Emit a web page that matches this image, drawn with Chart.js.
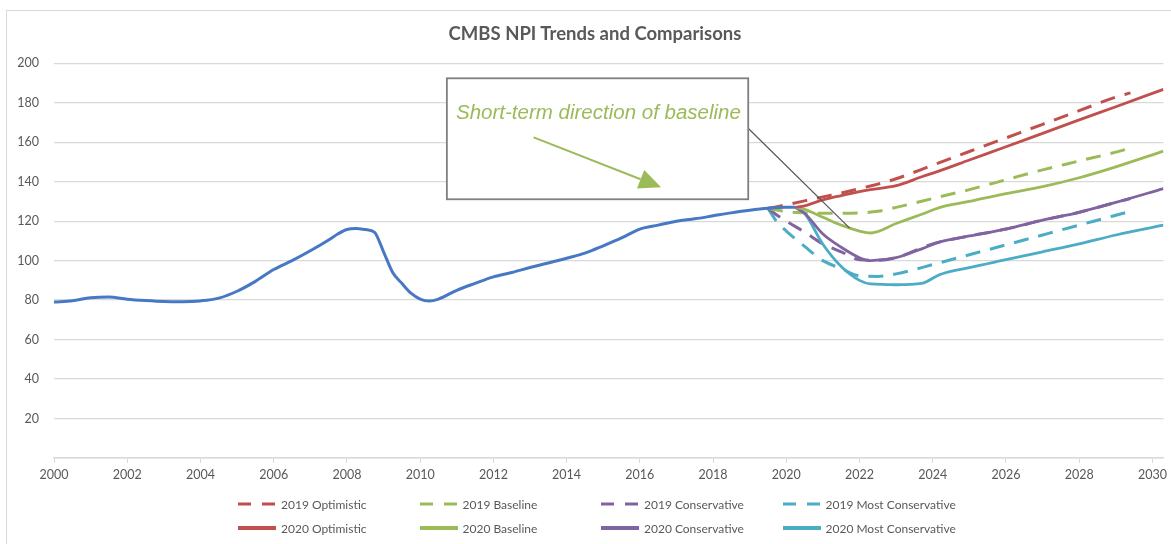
<!DOCTYPE html>
<html>
<head>
<meta charset="utf-8">
<title>CMBS NPI Trends and Comparisons</title>
<script src="https://cdn.jsdelivr.net/npm/chart.js@4.4.1/dist/chart.umd.min.js"></script>
<style>
    html, body { margin: 0; padding: 0; background: #fff; }
    #wrap { position: relative; width: 1171px; height: 544px; overflow: hidden; }
    #frame { position: absolute; left: 6px; top: 10px; right: -2px; bottom: -2px; border-top: 1px solid #d9d9d9; border-left: 1px solid #d9d9d9; pointer-events: none; }
    #npi-chart { position: absolute; left: 0; top: 0; }
    #chart-title { position: absolute; left: 0; top: 22px; width: 1190px; text-align: center; font: bold 18.5px/22px Lato, sans-serif; color: #595959; white-space: nowrap; }
    #legend { position: absolute; left: 238px; top: 494px; display: grid; grid-template-columns: repeat(4, 181.5px); row-gap: 4px; font: 12px Lato, sans-serif; color: #595959; }
    .legend-item { display: flex; align-items: center; height: 20px; white-space: nowrap; }
    .legend-item svg { margin-right: 5px; flex: none; }
</style>
</head>
<body>
<div id="wrap">
    <canvas id="npi-chart" width="1171" height="544"></canvas>
    <div id="frame"></div>
    <div id="chart-title">CMBS NPI Trends and Comparisons</div>
    <div id="legend"></div>
</div>
<script>
// Historical CMBS NPI index
const historyYears = [2000, 2000.5, 2001, 2001.5, 2002, 2002.5, 2003, 2003.5, 2004, 2004.5, 2005, 2005.5, 2006, 2006.5, 2007, 2007.5, 2007.75, 2008, 2008.25, 2008.5, 2008.75, 2009, 2009.25, 2009.5, 2009.75, 2010, 2010.25, 2010.5, 2011, 2011.5, 2012, 2012.5, 2013, 2013.5, 2014, 2014.5, 2015, 2015.5, 2016, 2016.5, 2017, 2017.5, 2018, 2018.5, 2019, 2019.5, 2020, 2020.25];
const historyValues = [79, 79.7, 81.2, 81.6, 80.5, 79.8, 79.3, 79.2, 79.6, 81, 84.5, 89.5, 95.5, 100, 105, 110.5, 113.5, 115.8, 116.3, 115.8, 114.5, 104.5, 94, 88.5, 83.5, 80.5, 79.5, 80.5, 85, 88.5, 91.8, 94, 96.5, 98.8, 101.2, 103.8, 107.5, 111.5, 116, 118, 120, 121.2, 122.7, 124.2, 125.5, 126.5, 127, 127];

// 2019 projections
const years2019 = [2019.5, 2019.75, 2020, 2020.5, 2021, 2021.5, 2022, 2022.5, 2023, 2024, 2025, 2026, 2027, 2028, 2029, 2029.4];
const optimistic2019 = [126.5, 127.3, 128.3, 130.3, 132.3, 134.3, 136.5, 138.8, 141.5, 148.4, 155.3, 162.2, 169.1, 176, 182.9, 185];
const baseline2019 = [126.5, 125.6, 124.8, 124.2, 124, 124, 124.2, 125, 127, 131.5, 136, 141, 146, 150.5, 155, 157];
const conservative2019 = [126.5, 123, 120, 114.5, 108.5, 104.5, 100.5, 100.2, 101.5, 108.5, 112.5, 116, 120.5, 124.5, 129.5, 131.5];
const mostConservative2019 = [126.5, 119.5, 115, 107.2, 100, 96, 92.3, 92, 93.3, 98, 103, 108, 113, 118, 123, 125];

// 2020 projections
const years2020 = [2020.25, 2020.5, 2021, 2021.5, 2022, 2022.3, 2023, 2023.7, 2024.2, 2025, 2026, 2027, 2028, 2029, 2030.3];
const optimistic2020 = [127, 127.8, 130.8, 133, 135, 136, 138, 142.5, 145.6, 151, 157.7, 164.5, 171.3, 178, 186.8];
const baseline2020 = [127, 126, 122, 118, 115, 114, 118.8, 123.5, 127, 130, 134, 137.5, 142, 147.5, 155.5];
const conservative2020 = [127, 124, 113.5, 106.8, 101.5, 100, 101.5, 106, 109.5, 112.5, 116, 120.5, 124.5, 129.5, 136.5];
const mostConservative2020 = [127, 124, 108.3, 97, 90, 88.2, 87.8, 88.5, 93, 96.5, 100.5, 104.5, 108.5, 113, 118];

// Axis ticks
const xTickStep = 2;
const yTickStep = 20;

const legendOrder = [
    '2019 Optimistic', '2019 Baseline', '2019 Conservative', '2019 Most Conservative',
    '2020 Optimistic', '2020 Baseline', '2020 Conservative', '2020 Most Conservative'
];

// Callout (in data units)
const callout = {
    box: { xMin: 2010.73, xMax: 2018.96, yMin: 131.1, yMax: 192.4 },
    text: 'Short-term direction of baseline',
    textAt: { x: 2014.87, y: 174.7 },
    arrowFrom: { x: 2013.1, y: 162.5 },
    arrowTo: { x: 2016.58, y: 137.2 },
    leaderFrom: { x: 2018.93, y: 167.6 },
    leaderTo: { x: 2021.73, y: 116.5 }
};

const GRAY = '#595959';
const GRID = '#d9d9d9';
const DASH = [15, 10];

function toPoints(xs, ys) {
    return xs.map((x, i) => ({ x: x, y: ys[i] }));
}

function series(label, xs, ys, color, dashed) {
    return {
        label: label,
        data: toPoints(xs, ys),
        borderColor: color,
        backgroundColor: color,
        borderWidth: dashed ? 3 : 2.8,
        borderDash: dashed ? DASH : [],
        pointRadius: 0,
        cubicInterpolationMode: 'monotone',
        fill: false
    };
}

const datasets = [
    series('History', historyYears, historyValues, '#4678c4', false),
    series('2020 Optimistic', years2020, optimistic2020, '#c0504d', false),
    series('2020 Baseline', years2020, baseline2020, '#9bbb59', false),
    series('2020 Conservative', years2020, conservative2020, '#8064a2', false),
    series('2020 Most Conservative', years2020, mostConservative2020, '#4bacc6', false),
    series('2019 Optimistic', years2019, optimistic2019, '#c0504d', true),
    series('2019 Baseline', years2019, baseline2019, '#9bbb59', true),
    series('2019 Conservative', years2019, conservative2019, '#8064a2', true),
    series('2019 Most Conservative', years2019, mostConservative2019, '#4bacc6', true)
];
datasets[0].borderWidth = 3;

// Draws the boxed note with its arrow and leader line
const calloutPlugin = {
    id: 'callout',
    afterDraw(chart) {
        const { ctx, scales: { x, y } } = chart;
        const px = p => [x.getPixelForValue(p.x), y.getPixelForValue(p.y)];
        const b = callout.box;
        const left = x.getPixelForValue(b.xMin), right = x.getPixelForValue(b.xMax);
        const top = y.getPixelForValue(b.yMax), bottom = y.getPixelForValue(b.yMin);

        ctx.save();
        // leader line
        const [lx1, ly1] = px(callout.leaderFrom);
        const [lx2, ly2] = px(callout.leaderTo);
        ctx.strokeStyle = '#555';
        ctx.lineWidth = 1.2;
        ctx.beginPath();
        ctx.moveTo(lx1, ly1);
        ctx.lineTo(lx2, ly2);
        ctx.stroke();

        // box
        ctx.fillStyle = '#fff';
        ctx.fillRect(left, top, right - left, bottom - top);
        ctx.strokeStyle = '#7f7f7f';
        ctx.lineWidth = 1.8;
        ctx.strokeRect(left, top, right - left, bottom - top);

        // text
        const [tx, ty] = px(callout.textAt);
        ctx.fillStyle = '#9bbb59';
        ctx.font = 'italic 20.5px "Liberation Sans", Arial, sans-serif';
        ctx.textAlign = 'center';
        ctx.textBaseline = 'middle';
        ctx.fillText(callout.text, tx, ty);

        // arrow
        const [ax1, ay1] = px(callout.arrowFrom);
        const [ax2, ay2] = px(callout.arrowTo);
        const ang = Math.atan2(ay2 - ay1, ax2 - ax1);
        const headLen = 22, headHalf = 10;
        const bx = ax2 - headLen * Math.cos(ang), by = ay2 - headLen * Math.sin(ang);
        ctx.strokeStyle = '#9bbb59';
        ctx.lineWidth = 2;
        ctx.beginPath();
        ctx.moveTo(ax1, ay1);
        ctx.lineTo(bx, by);
        ctx.stroke();
        ctx.beginPath();
        ctx.moveTo(ax2, ay2);
        ctx.lineTo(bx + headHalf * Math.sin(ang), by - headHalf * Math.cos(ang));
        ctx.lineTo(bx - headHalf * Math.sin(ang), by + headHalf * Math.cos(ang));
        ctx.closePath();
        ctx.fill();
        ctx.restore();
    }
};

const npiChart = new Chart(document.getElementById('npi-chart'), {
    type: 'line',
    data: { datasets: datasets },
    options: {
        responsive: false,
        animation: false,
        devicePixelRatio: 1,
        layout: { padding: { left: 0, right: 5, top: 63.3, bottom: 56 } },
        plugins: {
            legend: { display: false },
            tooltip: { enabled: false },
            title: { display: false }
        },
        scales: {
            x: {
                type: 'linear',
                min: 2000,
                max: 2030.3,
                afterFit: s => { s.height = 30; },
                grid: { drawOnChartArea: false, drawTicks: true, tickLength: 5, color: GRID },
                border: { display: true, color: GRID, width: 1.5 },
                ticks: {
                    stepSize: xTickStep,
                    includeBounds: false,
                    maxRotation: 0,
                    autoSkip: false,
                    padding: 4,
                    color: GRAY,
                    font: { family: 'Lato', size: 12.5 },
                    callback: v => String(v)
                }
            },
            y: {
                min: 0,
                max: 200,
                afterFit: s => { s.width = 54; },
                grid: { drawTicks: false, color: GRID, lineWidth: 1.3 },
                border: { display: false },
                ticks: {
                    stepSize: yTickStep,
                    padding: 15,
                    color: GRAY,
                    font: { family: 'Lato', size: 12.5 },
                    callback: v => v === 0 ? '' : String(v)
                }
            }
        }
    },
    plugins: [calloutPlugin]
});

// Legend laid out in four fixed columns
const legendBox = document.getElementById('legend');
legendOrder.forEach(label => {
    const ds = npiChart.data.datasets.find(d => d.label === label);
    const dashed = ds.borderDash.length > 0;
    const item = document.createElement('div');
    item.className = 'legend-item';
    item.innerHTML = `
        <svg width="38" height="6" viewBox="0 0 38 6">
            <line x1="0" y1="3" x2="38" y2="3" stroke="${ds.borderColor}"
                stroke-width="${dashed ? 3 : 4}" ${dashed ? 'stroke-dasharray="13 11"' : ''}/>
        </svg>
        <span>${label}</span>`;
    legendBox.appendChild(item);
});
</script>
</body>
</html>
